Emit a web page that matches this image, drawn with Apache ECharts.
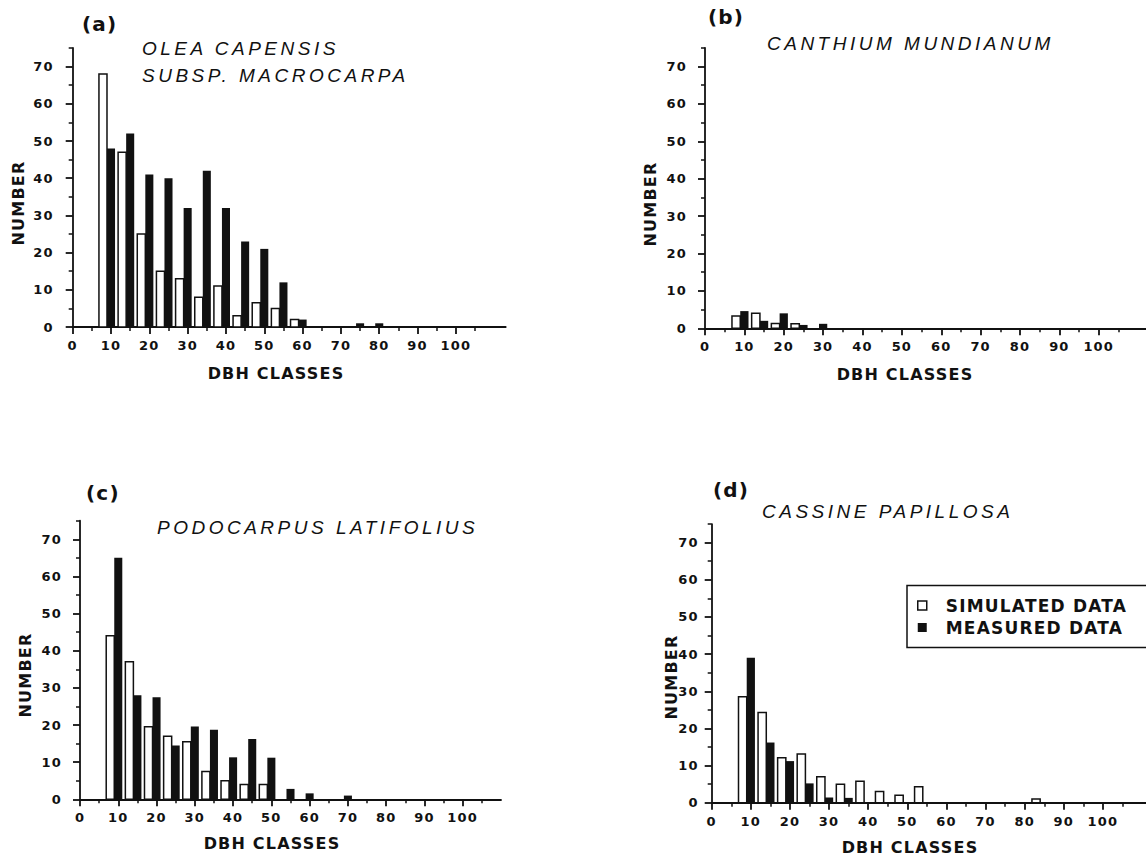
<!DOCTYPE html>
<html><head><meta charset="utf-8">
<style>
html,body{margin:0;padding:0;background:#fff;}
#chart{width:1146px;height:862px;}
#chart text[style*="italic"]{letter-spacing:3.5px;}
#chart text[style*="bold"]{letter-spacing:1.2px;}
</style>
<script src="https://cdn.jsdelivr.net/npm/echarts@6/dist/echarts.min.js"></script>
</head><body><div id="chart"></div>
<script>
// ---- data ----
const dbhClasses = [10,15,20,25,30,35,40,45,50,55,60,65,70,75,80,85];
const xTickLabels = [0,10,20,30,40,50,60,70,80,90,100];
const xMinorTicks = [5,15,25,35,45,55,65,75,85,95,105];
const yTickLabels = [0,10,20,30,40,50,60,70];
const yMinorTicks = [5,15,25,35,45,55,65,75];

const simulatedA = [68,47,25,15,13,8,11,3,6.5,5,2,null,null,null,null,null];
const measuredA  = [48,52,41,40,32,42,32,23,21,12,2,null,null,1,1,null];
const simulatedB = [3.3,4,1.3,1.2,null,null,null,null,null,null,null,null,null,null,null,null];
const measuredB  = [4.6,2,4,0.9,1.2,null,null,null,null,null,null,null,null,null,null,null];
const simulatedC = [44,37,19.5,17,15.5,7.5,5,4,4,null,null,null,null,null,null,null];
const measuredC  = [65,28,27.5,14.5,19.6,18.7,11.3,16.2,11.2,2.8,1.6,null,1,null,null,null];
const simulatedD = [28.5,24.3,12.1,13.1,7,5,5.8,3,2,4.3,null,null,null,null,null,1];
const measuredD  = [39,16.2,11.2,5.2,1.4,1.3,null,null,null,null,null,null,null,null,null,null];

const seriesNames = ['SIMULATED DATA','MEASURED DATA'];
const panelLetters = ['(a)','(b)','(c)','(d)'];
const titlesA = ['OLEA CAPENSIS','SUBSP. MACROCARPA'];
const titleB = 'CANTHIUM MUNDIANUM';
const titleC = 'PODOCARPUS LATIFOLIUS';
const titleD = 'CASSINE PAPILLOSA';
const xName = 'DBH CLASSES';
const yName = 'NUMBER';

// ---- layout ----
const panels = [
  {sim: simulatedA, mea: measuredA, grid:{left:72.7, top:48, width:433, height:279}, xMax:113, yMargin:19},
  {sim: simulatedB, mea: measuredB, grid:{left:705, top:47.8, width:441, height:280.5}, xMax:112, yMargin:18},
  {sim: simulatedC, mea: measuredC, grid:{left:80, top:520.7, width:421, height:278.6}, xMax:110, yMargin:18},
  {sim: simulatedD, mea: measuredD, grid:{left:711.7, top:524.1, width:434.7, height:278.6}, xMax:111, yMargin:13}
];

const BW = 2.1; // bar width in DBH units
const INK = '#111';
const tickFont = {fontFamily:'DejaVu Sans', fontWeight:'bold', fontSize:13, color:INK};

function makeRender(kind){
  return function(params, api){
    const c = api.value(0), v = api.value(1);
    const left = kind === 'sim' ? c - 1.5*BW : c - 0.5*BW;
    const p0 = api.coord([left, 0]);
    const p1 = api.coord([left + BW, v]);
    return {
      type:'rect',
      shape:{x:p0[0], y:p1[1], width:p1[0]-p0[0], height:p0[1]-p1[1]},
      style: kind === 'sim' ? {fill:'#fff', stroke:INK, lineWidth:1.5} : {fill:INK}
    };
  };
}
function pairs(arr){
  return dbhClasses.map((c,i)=>[c, arr[i]]).filter(d=>d[1]!=null);
}

const grids=[], xAxes=[], yAxes=[], series=[];
panels.forEach((p, i)=>{
  grids.push(Object.assign({containLabel:false}, p.grid));
  xAxes.push({type:'value', gridIndex:i, min:0, max:p.xMax, position:'bottom',
    axisLine:{show:true, onZero:false, lineStyle:{color:INK, width:1.8}},
    axisTick:{show:true, customValues:xTickLabels, length:7, lineStyle:{color:INK, width:1.8}},
    axisLabel:{show:true, customValues:xTickLabels, margin:12, ...tickFont},
    splitLine:{show:false}});
  xAxes.push({type:'value', gridIndex:i, min:0, max:p.xMax, position:'bottom', offset:0,
    axisLine:{show:false},
    axisTick:{show:true, customValues:xMinorTicks, length:4, lineStyle:{color:INK, width:1.5}},
    axisLabel:{show:false}, splitLine:{show:false}});
  yAxes.push({type:'value', gridIndex:i, min:0, max:75, position:'left',
    axisLine:{show:true, onZero:false, lineStyle:{color:INK, width:1.8}},
    axisTick:{show:true, customValues:yTickLabels, length:7, lineStyle:{color:INK, width:1.8}},
    axisLabel:{show:true, customValues:yTickLabels, margin:p.yMargin, ...tickFont},
    splitLine:{show:false}});
  yAxes.push({type:'value', gridIndex:i, min:0, max:75, position:'left', offset:0,
    axisLine:{show:false},
    axisTick:{show:true, customValues:yMinorTicks, length:4, lineStyle:{color:INK, width:1.5}},
    axisLabel:{show:false}, splitLine:{show:false}});
  series.push({type:'custom', name:seriesNames[0], xAxisIndex:2*i, yAxisIndex:2*i,
    renderItem:makeRender('sim'), encode:{x:0, y:1}, data:pairs(p.sim),
    itemStyle:{color:'#fff', borderColor:INK, borderWidth:1.5}, silent:true});
  series.push({type:'custom', name:seriesNames[1], xAxisIndex:2*i, yAxisIndex:2*i,
    renderItem:makeRender('mea'), encode:{x:0, y:1}, data:pairs(p.mea),
    itemStyle:{color:INK}, silent:true});
});

const letterFont = 'bold 20px "DejaVu Sans"';
const titleFont = 'italic 19px "Liberation Sans"';
const nameFont = 'bold 16px "DejaVu Sans"';
function txt(text, x, y, font, align, rot){
  const o = {type:'text', x:x, y:y, silent:true,
    style:{text:text, font:font, fill:INK, textAlign:align||'left', textVerticalAlign:'middle'}};
  if (rot) o.rotation = rot;
  return o;
}
const graphic = [
  txt(panelLetters[0], 82, 24, letterFont),
  txt(panelLetters[1], 708, 17, letterFont),
  txt(panelLetters[2], 86, 493, letterFont),
  txt(panelLetters[3], 713, 490, letterFont),
  txt(titlesA[0], 142, 48, titleFont),
  txt(titlesA[1], 142, 75, titleFont),
  txt(titleB, 767, 43, titleFont),
  txt(titleC, 157, 527, titleFont),
  txt(titleD, 762, 511, titleFont),
  txt(yName, 18.5, 203, nameFont, 'center', Math.PI/2),
  txt(yName, 650, 204, nameFont, 'center', Math.PI/2),
  txt(yName, 25, 675, nameFont, 'center', Math.PI/2),
  txt(yName, 671, 677, nameFont, 'center', Math.PI/2),
  txt(xName, 276, 373, nameFont, 'center'),
  txt(xName, 905, 374, nameFont, 'center'),
  txt(xName, 272, 843, nameFont, 'center'),
  txt(xName, 910, 847, nameFont, 'center'),
  // legend frame, running off the right edge as in the original
  {type:'rect', silent:true, shape:{x:907, y:585.5, width:300, height:62},
   style:{fill:'none', stroke:INK, lineWidth:1.5}}
];

const chart = echarts.init(document.getElementById('chart'), null, {renderer:'svg', width:1146, height:862});
chart.setOption({
  animation:false,
  backgroundColor:'#fff',
  grid:grids, xAxis:xAxes, yAxis:yAxes, series:series,
  legend:{left:907, top:585, orient:'vertical', padding:[12,10,10,10], itemGap:5,
    itemWidth:9, itemHeight:9, borderWidth:0,
    selectedMode:false,
    textStyle:{fontFamily:'DejaVu Sans', fontWeight:'bold', fontSize:17, color:INK, padding:[0,0,0,14]},
    data:[{name:seriesNames[0], icon:'rect', itemStyle:{color:'#fff', borderColor:INK, borderWidth:1.5}},
          {name:seriesNames[1], icon:'rect', itemStyle:{color:INK, borderWidth:0}}]},
  graphic:graphic
});
</script></body></html>
